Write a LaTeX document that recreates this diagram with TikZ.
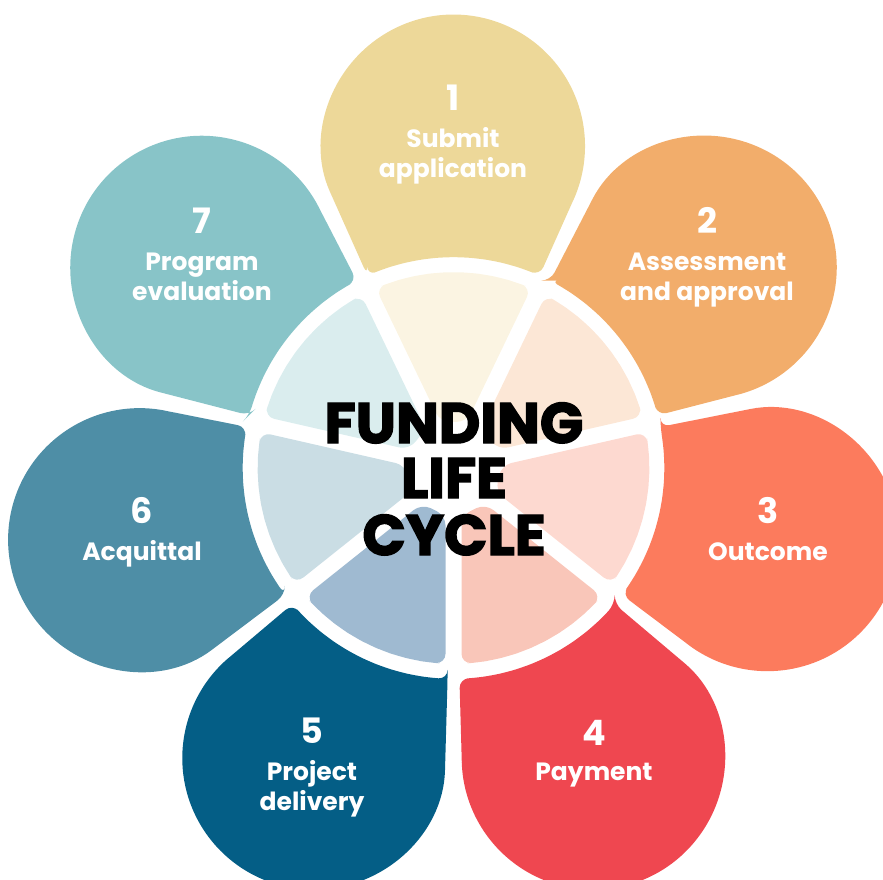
\documentclass[tikz,border=0pt]{standalone}
\usepackage{fontspec}
\setmainfont{Poppins}
\newfontfamily\titlefont{Poppins}[FakeBold=2.5]
\definecolor{p1}{HTML}{EDD899}
\definecolor{p2}{HTML}{F2AD6B}
\definecolor{p3}{HTML}{FC7B5D}
\definecolor{p4}{HTML}{EF4750}
\definecolor{p5}{HTML}{045E86}
\definecolor{p6}{HTML}{4E8EA6}
\definecolor{p7}{HTML}{88C4C8}
\definecolor{s1}{HTML}{FBF4E2}
\definecolor{s2}{HTML}{FCE7D6}
\definecolor{s3}{HTML}{FDD9D0}
\definecolor{s4}{HTML}{F9C6B9}
\definecolor{s5}{HTML}{9FBAD1}
\definecolor{s6}{HTML}{CADDE4}
\definecolor{s7}{HTML}{DAEDEE}
\tikzset{
  digit/.style={anchor=base, inner sep=0pt, text=white, font=\bfseries\fontsize{35}{40}\selectfont},
  lbl/.style={anchor=base, inner sep=0pt, text=white, font=\bfseries\fontsize{25}{30}\selectfont},
  ttl/.style={anchor=base, inner sep=0pt, text=black, font=\titlefont\bfseries\fontsize{57}{56}\selectfont},
}
\begin{document}
\begin{tikzpicture}[x=1pt,y=-1pt]
\useasboundingbox (0,0) rectangle (883,879);
\clip (0,0) rectangle (883,879);
\begin{scope}[shift={(453.5,468)}]
  % outer petals
  \foreach \ang/\col in {-90/p1, -38.571/p2, 12.857/p3, 64.286/p4, 115.714/p5, 167.143/p6, 218.571/p7}{
    \fill[\col] (\ang+24.1:293.9) [rounded corners=9] -- (\ang+24.1:211)
      \foreach \k in {1,...,11}{ -- (\ang+24.1-\k*4.3818:211)}
      -- (\ang-24.1:211) -- (\ang-24.1:293.9) [sharp corners]
      arc[start angle=\ang-114.1, end angle=\ang+114.1, radius=131.5] -- cycle;
  }
  % inner sectors
  \foreach \ang/\col in {-90/s1, -38.571/s2, 12.857/s3, 64.286/s4, 115.714/s5, 167.143/s6, 218.571/s7}{
    \fill[\col, rounded corners=10] (\ang-23.374:196)
      \foreach \k in {1,...,10}{ -- (\ang-23.374+\k*4.6748:196)}
      -- (\ang+16.124:48) -- (\ang-16.124:48) -- cycle;
  }
\end{scope}
% title
\node[ttl] (t1) at (454,443) {FUNDING};
\node[ttl] (t2) at (454,498) {LIFE};
\node[ttl] (t3) at (454,555) {CYCLE};
% petal 1
\node[digit] (n1) at (453,110) {1};
\node[lbl] (l1a) at (453,147) {Submit};
\node[lbl] (l1b) at (453,177) {application};
% petal 2
\node[digit] (n2) at (707,233) {2};
\node[lbl] (l2a) at (707,270) {Assessment};
\node[lbl] (l2b) at (707,300) {and approval};
% petal 3
\node[digit] (n3) at (768,523) {3};
\node[lbl] (l3a) at (768,560) {Outcome};
% petal 4
\node[digit] (n4) at (594,745) {4};
\node[lbl] (l4a) at (594,780) {Payment};
% petal 5
\node[digit] (n5) at (312,743) {5};
\node[lbl] (l5a) at (312,780) {Project};
\node[lbl] (l5b) at (312,810) {delivery};
% petal 6
\node[digit] (n6) at (142,523) {6};
\node[lbl] (l6a) at (142,560) {Acquittal};
% petal 7
\node[digit] (n7) at (202,233) {7};
\node[lbl] (l7a) at (202,270) {Program};
\node[lbl] (l7b) at (202,300) {evaluation};
\end{tikzpicture}
\end{document}
